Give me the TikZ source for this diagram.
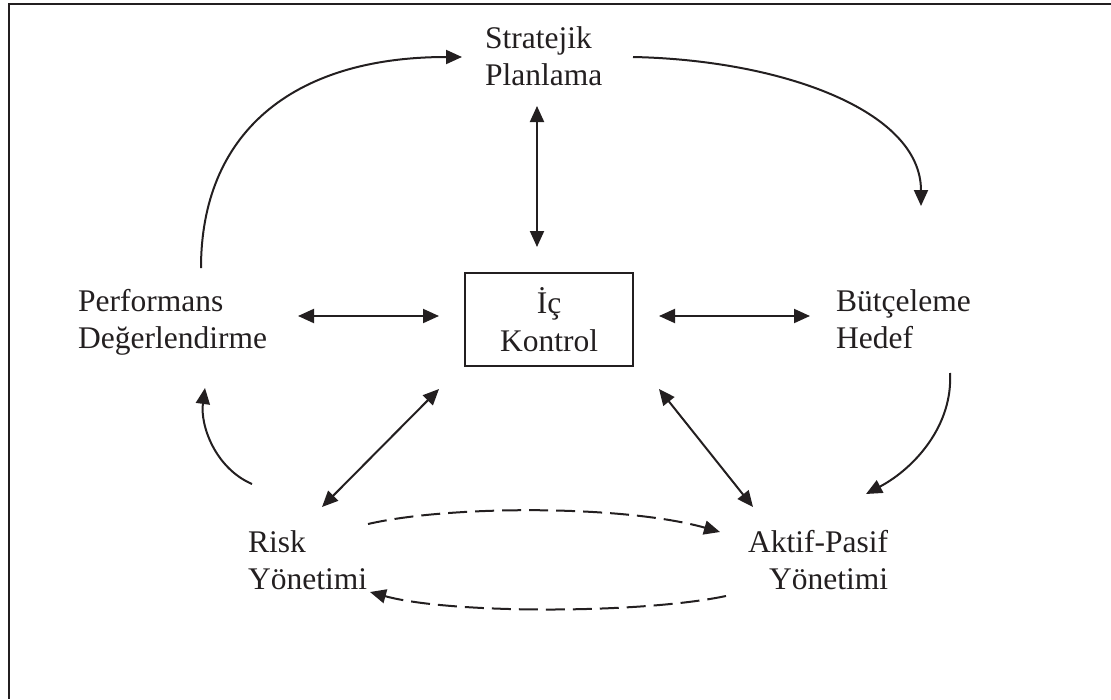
\documentclass[tikz,border=0pt]{standalone}
\usepackage{fontspec}
\setmainfont{Liberation Serif}
\usetikzlibrary{arrows.meta}
\definecolor{ink}{HTML}{231F20}
\begin{document}
\begin{tikzpicture}[x=1pt,y=-1pt,
  lbl/.style={inner sep=0pt, anchor=north west, align=left, text=ink,
    font=\fontsize{31.5}{37.5}\selectfont},
  ctl/.style={draw=ink, line width=2pt, minimum width=168pt, minimum height=93pt,
    inner sep=0pt, align=center, text=ink, font=\fontsize{31.5}{37.5}\selectfont},
  tip/.style={Triangle[length=16pt,width=14pt]},
  link/.style={draw=ink, line width=2pt, -{Triangle[length=16pt,width=14pt]}},
  dlink/.style={link, {Triangle[length=16pt,width=14pt]}-{Triangle[length=16pt,width=14pt]}},
  dashlink/.style={link, dash pattern=on 19pt off 8pt}
]
\useasboundingbox (0,0) rectangle (1111,699);
% frame
\draw[ink, line width=2.6pt] (1111,4) -- (9,4) -- (9,699);

% concepts
\node[lbl] (sp) at (485,26) {Stratejik\\Planlama};
\node[lbl] (pd) at (78,289) {Performans\\Değerlendirme};
\node[lbl] (bh) at (836,289) {Bütçeleme\\Hedef};
\node[lbl] (ry) at (248,530) {Risk\\Yönetimi};
\node[lbl, align=right] (ap) at (748,530) {Aktif-Pasif\\Yönetimi};
\node[ctl] (ic) at (549,319.5) {İç\\Kontrol};

% two-way links with the control box
\draw[dlink] ([shift={(52,80)}]sp.north west) -- ([shift={(-12,-25)}]ic.north);
\draw[dlink] ([shift={(220,27)}]pd.north west) -- ([shift={(-25,-3.5)}]ic.west);
\draw[dlink] ([shift={(25,-3.5)}]ic.east) -- ([shift={(-26,27)}]bh.north west);
\draw[dlink] ([shift={(74,-23)}]ry.north west) -- ([shift={(-25,22)}]ic.south west);
\draw[dlink] ([shift={(25,22)}]ic.south east) -- ([shift={(5,-23)}]ap.north west);

% outer cycle
\draw[link] ([shift={(123,-21)}]pd.north west) .. controls +(0,-133) and +(-172,0) .. ([shift={(-23,31)}]sp.north west);
\draw[link] ([shift={(148,31)}]sp.north west) .. controls +(147,3) and +(0,-96) .. ([shift={(85,-83)}]bh.north west);
\draw[link] ([shift={(114,84)}]bh.north west) .. controls +(3,52) and +(49,-26) .. ([shift={(118,-36)}]ap.north west);
\draw[link] ([shift={(4,-46)}]ry.north west) .. controls +(-37,-16) and +(-5,37) .. ([shift={(127,99)}]pd.north west);

% dashed exchange between risk and asset-liability management
\draw[dashlink] ([shift={(120,-6)}]ry.north west) .. controls +(82,-19) and +(-95,-27) .. ([shift={(-28,2)}]ap.north west);
\draw[dashlink] ([shift={(-22,66)}]ap.north west) .. controls +(-86,18) and +(80,22) .. ([shift={(122,62)}]ry.north west);
\end{tikzpicture}
\end{document}
